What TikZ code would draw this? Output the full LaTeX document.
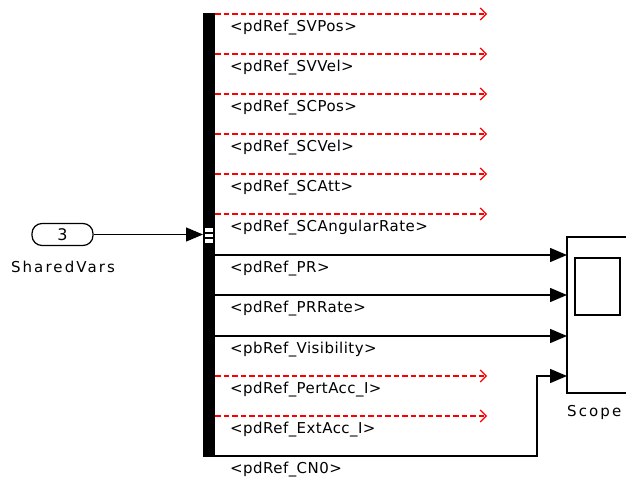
\documentclass[tikz,border=0pt]{standalone}
\usepackage{fontspec}
\setmainfont{DejaVu Sans}[LetterSpace=3]
\newfontfamily\widefont{DejaVu Sans}[LetterSpace=14]
\usetikzlibrary{arrows.meta}
\begin{document}
\begin{tikzpicture}[x=1pt,y=-1pt,
  sig/.style={line width=1.5pt, -{Triangle[length=17pt,width=14pt]}},
  unused/.style={red, line width=1.1pt, dash pattern=on 5.5pt off 3pt,
                 -{Straight Barb[length=6pt,width=12pt,line width=1.1pt]}},
  lbl/.style={anchor=west, inner sep=0pt, font=\fontsize{15}{17}\selectfont},
  busbar/.style={fill=black, inner sep=0pt, outer sep=0pt, minimum width=12pt, minimum height=444pt}]
\useasboundingbox (0,0) rectangle (626,481);

% bus selector
\node[busbar] (bus) at (209,235) {};
\fill[white] (205,228) rectangle (213,243);
\draw[line width=1.2pt] (205,233) -- (213,233) (205,238) -- (213,238);

% inport
\node[draw, line width=1.2pt, rounded corners=10pt, minimum width=61pt, minimum height=22pt,
      inner sep=0pt, font=\fontsize{16}{18}\selectfont] (inp) at (62.5,234.5) {3};
\node[lbl, anchor=center, font=\fontsize{15}{17}\widefont] (inpname) at (63,267) {SharedVars};
\draw[sig, line width=1.1pt] (inp.east) -- (bus.west |- inp.east);

% bus outputs
\foreach \i/\y in {1/14,2/54,3/94,4/134,5/174,6/214,7/255,8/295,9/336,10/376,11/416,12/456}
  \coordinate (b\i) at (215,\y);

% scope block
\draw[line width=1.4pt] (630,237) -- (567,237) -- (567,393) -- (630,393);
\node[draw, line width=1.2pt, minimum width=45pt, minimum height=57pt, inner sep=0pt] (screen) at (597.5,286.5) {};
\node[lbl, font=\fontsize{15}{17}\widefont] (scopename) at (567,412) {Scope};
\coordinate (s1) at (567,255);
\coordinate (s2) at (567,295);
\coordinate (s3) at (567,336);
\coordinate (s4) at (567,376);

% unconnected signals
\foreach \i in {1,2,3,4,5,6,10,11}
  \draw[unused] (b\i) -- ([xshift=272pt]b\i);

% signals to scope
\draw[sig] (b7) -- (s1);
\draw[sig] (b8) -- (s2);
\draw[sig] (b9) -- (s3);
\draw[sig] (b12) -- (537,456) -- (537,376) -- (s4);

% signal names
\foreach \i/\t in {1/{<pdRef\_SVPos>},2/{<pdRef\_SVVel>},3/{<pdRef\_SCPos>},4/{<pdRef\_SCVel>},
                   5/{<pdRef\_SCAtt>},6/{<pdRef\_SCAngularRate>},7/{<pdRef\_PR>},8/{<pdRef\_PRRate>},
                   9/{<pbRef\_Visibility>},10/{<pdRef\_PertAcc\_I>},11/{<pdRef\_ExtAcc\_I>},12/{<pdRef\_CN0>}}
  \node[lbl] (n\i) at ([xshift=15pt,yshift=-14pt]b\i) {\t};
\end{tikzpicture}
\end{document}
